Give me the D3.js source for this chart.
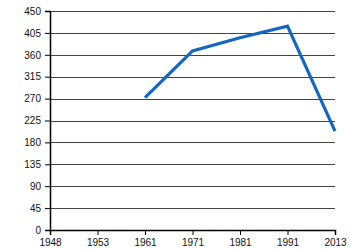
<!DOCTYPE html>
<html>
<head>
<meta charset="utf-8">
<script src="https://cdn.jsdelivr.net/npm/d3@7"></script>
<style>
  body { margin: 0; background: #fff; }
  svg { display: block; font-family: "Liberation Sans", Arial, sans-serif; }
</style>
</head>
<body>
<svg id="chart" width="350" height="250"></svg>
<script>
// categories on the x axis (evenly spaced, not to scale)
const years = ["1948", "1953", "1961", "1971", "1981", "1991", "2013"];
// series values, null where there is no data
const values = [null, null, 272, 368, 395, 419, 203];
const yTicks = [0, 45, 90, 135, 180, 225, 270, 315, 360, 405, 450];

const svg = d3.select("#chart");
const margin = { top: 11, right: 15, bottom: 20, left: 50 };
const width = 350 - margin.left - margin.right;
const height = 250 - margin.top - margin.bottom;

const x = d3.scalePoint()
    .domain(years)
    .range([0, width]);

const y = d3.scaleLinear()
    .domain([0, 450])
    .range([height, 0]);

const g = svg.append("g")
    .attr("transform", "translate(" + margin.left + "," + margin.top + ")");

// horizontal grid lines
g.append("g")
    .selectAll("line")
    .data(yTicks.filter(function(d) { return d > 0; }))
    .enter().append("line")
    .attr("x1", 0)
    .attr("x2", width)
    .attr("y1", function(d) { return Math.round(y(d)) + 0.5; })
    .attr("y2", function(d) { return Math.round(y(d)) + 0.5; })
    .style("stroke", "#444")
    .style("stroke-width", 1);

// y axis
const yAxis = g.append("g")
    .call(d3.axisLeft(y).tickValues(yTicks).tickSize(5).tickPadding(4));

// x axis
const xAxis = g.append("g")
    .attr("transform", "translate(0," + height + ")")
    .call(d3.axisBottom(x).tickSize(5).tickPadding(2));

[xAxis, yAxis].forEach(function(a) {
    a.select(".domain").style("stroke", "#000").style("stroke-width", 1.5);
    a.selectAll(".tick line").style("stroke", "#000");
    a.selectAll("text")
        .style("font-size", "10px")
        .style("fill", "#111")
        .style("font-family", "'Liberation Sans', Arial, sans-serif");
});
// first/last tick labels hang over edges a bit in the reference
xAxis.selectAll(".tick text").attr("dy", "0.85em");

// the data line
const line = d3.line()
    .defined(function(d) { return d !== null; })
    .x(function(d, i) { return x(years[i]); })
    .y(function(d) { return y(d); });

g.append("path")
    .datum(values)
    .attr("d", line)
    .style("fill", "none")
    .style("stroke", "#1466c0")
    .style("stroke-width", 3.2)
    .style("stroke-linejoin", "miter");
</script>
</body>
</html>
